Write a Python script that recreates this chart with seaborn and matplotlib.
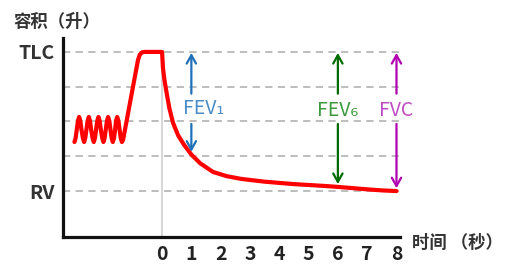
import numpy as np
import pandas as pd
import matplotlib
matplotlib.use("Agg")
import matplotlib.pyplot as plt
import seaborn as sns

# ---------------- data ----------------
tidal_t = [-2.99, -2.95, -2.91, -2.87, -2.83, -2.79, -2.75, -2.70,
           -2.66, -2.62, -2.58, -2.54, -2.50, -2.46, -2.42, -2.37,
           -2.33, -2.29, -2.25, -2.21, -2.17, -2.13, -2.09, -2.04,
           -2.00, -1.96, -1.92, -1.88, -1.84, -1.80, -1.76, -1.72,
           -1.68, -1.64, -1.60, -1.57, -1.53, -1.49, -1.45, -1.41, -1.37]
tidal_v = [1.41, 1.52, 1.77, 2.02, 2.13, 2.02, 1.77, 1.52,
           1.41, 1.52, 1.77, 2.02, 2.13, 2.02, 1.77, 1.52,
           1.41, 1.52, 1.77, 2.02, 2.13, 2.02, 1.77, 1.52,
           1.41, 1.52, 1.77, 2.02, 2.13, 2.02, 1.77, 1.52,
           1.41, 1.52, 1.77, 2.02, 2.13, 2.02, 1.77, 1.52, 1.41]
inhale_t = [-1.33, -1.08, -0.82, -0.76, -0.68, -0.58, 0.0]
inhale_v = [1.47, 2.60, 3.77, 3.92, 3.99, 4.00, 4.00]
exhale_t = [0.03, 0.08, 0.14, 0.25, 0.375, 0.55, 0.75, 1.0, 1.3, 1.74,
            2.2, 2.7, 3.5, 4.5, 5.5, 6.0, 7.0, 7.5, 8.0]
exhale_v = [3.55, 3.20, 2.90, 2.38, 1.96, 1.60, 1.33, 1.05, 0.80, 0.55,
            0.43, 0.35, 0.27, 0.20, 0.15, 0.12, 0.05, 0.02, 0.00]

x_ticks = [0, 1, 2, 3, 4, 5, 6, 7, 8]
level_values = [0, 1, 2, 3, 4]
level_labels = ["RV", "", "", "", "TLC"]
TLC, RV = 4.0, 0.0

marker_names = ["FEV\u2081", "FEV\u2086", "FVC"]
marker_times = [1, 6, 8]
arrow_colors = ["#1f70b8", "#006b00", "#b000b0"]
text_colors = ["#4a8cc8", "#3c9a3c", "#c04cc4"]

# --------------- figure ---------------
sns.set_theme(style="white")
plt.rcParams["font.family"] = ["Noto Sans CJK SC", "DejaVu Sans"]

fig = plt.figure(figsize=(5.25, 2.70), dpi=100)
ax = fig.add_axes([63 / 525, 1 - 237 / 270, (400 - 63) / 525, (237 - 38) / 270])

df = pd.DataFrame({
    "time": tidal_t + inhale_t + exhale_t,
    "volume": tidal_v + inhale_v + exhale_v,
})

# grid levels
for lv in level_values:
    ax.axhline(lv, color="#b8b8b8", lw=1.3, ls=(0, (4, 3)), zorder=1)
# vertical line at t=0
ax.plot([0, 0], [-1.32, TLC], color="#cfcfcf", lw=1.2, zorder=1)

sns.lineplot(data=df, x="time", y="volume", ax=ax, color="#ff0000",
             lw=3.0, sort=False, estimator=None, zorder=3)
ax.lines[-1].set_solid_joinstyle("round")
ax.lines[-1].set_solid_capstyle("round")

# arrows
for name, t, ac, tc in zip(marker_names, marker_times, arrow_colors, text_colors):
    bottom = np.interp(t, df["time"], df["volume"])
    ast = "->,head_length=0.5,head_width=0.28"
    ax.annotate("", xy=(t, TLC - 0.03), xytext=(t, 2.8),
                arrowprops=dict(arrowstyle=ast, color=ac, lw=1.6,
                                shrinkA=0, shrinkB=0), zorder=4)
    ax.annotate("", xy=(t, bottom + 0.08), xytext=(t, 1.93),
                arrowprops=dict(arrowstyle=ast, color=ac, lw=1.6,
                                shrinkA=0, shrinkB=0), zorder=4)
    if t == 1:
        ax.text(t - 0.3, 2.36, name, color=tc, fontsize=14, ha="left",
                va="center", zorder=5)
    else:
        ax.text(t, 2.33, name, color=tc, fontsize=14, ha="center",
                va="center", zorder=5)

ax.set_xlim(-3.38, 8.12)
ax.set_ylim(-1.32, 4.4)
ax.set_xticks(x_ticks)
ax.set_xticklabels([str(v) for v in x_ticks])
ax.set_yticks(level_values)
ax.set_yticklabels(level_labels)
ax.set_xlabel("")
ax.set_ylabel("")

for s in ["top", "right"]:
    ax.spines[s].set_visible(False)
for s in ["left", "bottom"]:
    ax.spines[s].set_color("#111111")
    ax.spines[s].set_linewidth(2.3)
    ax.spines[s].set_zorder(6)

ax.tick_params(axis="x", direction="in", length=4, width=1.5, color="#111111",
               pad=6, labelsize=14, labelcolor="#222222")
ax.tick_params(axis="y", length=0, pad=6, labelsize=14, labelcolor="#333333")
for lab in ax.get_xticklabels() + ax.get_yticklabels():
    lab.set_fontweight("bold")

fig.text(14 / 525, 1 - 22 / 270, "容积（升）", fontsize=12.5, fontweight="bold",
         color="#333333", ha="left", va="center")
fig.text(412 / 525, 1 - 243 / 270, "时间 （秒）", fontsize=12.5, fontweight="bold",
         color="#333333", ha="left", va="center")

fig.savefig("out.png", dpi=100)
